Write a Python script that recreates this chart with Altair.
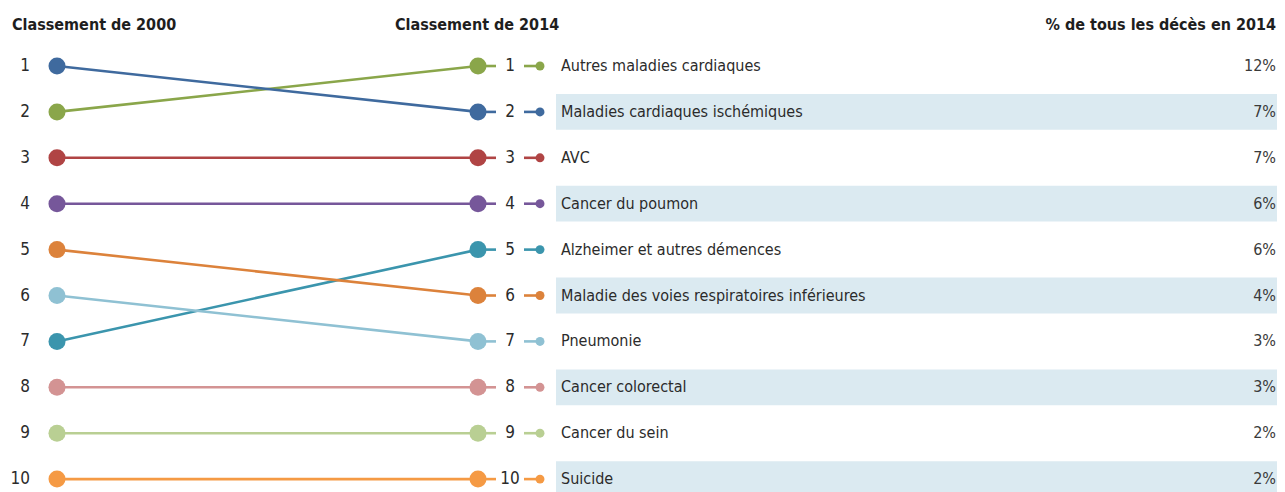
import altair as alt
import pandas as pd

causes = [
    "Autres maladies cardiaques",
    "Maladies cardiaques ischémiques",
    "AVC",
    "Cancer du poumon",
    "Alzheimer et autres démences",
    "Maladie des voies respiratoires inférieures",
    "Pneumonie",
    "Cancer colorectal",
    "Cancer du sein",
    "Suicide",
]
rank_2000 = [2, 1, 3, 4, 7, 5, 6, 8, 9, 10]
rank_2014 = [1, 2, 3, 4, 5, 6, 7, 8, 9, 10]
pct_2014 = [12, 7, 7, 6, 6, 4, 3, 3, 2, 2]
colors = ["#8aa64a", "#3f6a9e", "#b04444", "#76579a", "#3b95ad",
          "#dc823b", "#8fc1d3", "#d39393", "#b9cf93", "#f59a44"]
headers = ["Classement de 2000", "Classement de 2014", "% de tous les décès en 2014"]

FONT = "DejaVu Sans Condensed, sans-serif"
TXT = "#2b2b2b"

W, H = 1269, 484

wide = pd.DataFrame({
    "cause": causes,
    "r2000": rank_2000,
    "r2014": rank_2014,
    "pct": [f"{p}%" for p in pct_2014],
})
long = pd.DataFrame({
    "cause": causes * 2,
    "year": [2000] * 10 + [2014] * 10,
    "rank": rank_2000 + rank_2014,
})

yscale = alt.Scale(domain=[-0.264, 10.281], reverse=True, nice=False, zero=False)
xscale = alt.Scale(domain=[2000, 2014], range=[49, 470], nice=False, zero=False)
cscale = alt.Scale(domain=causes, range=colors)

base = alt.Chart(wide)

bands = base.transform_filter("datum.r2014 % 2 == 0").transform_calculate(
    y1="datum.r2014 - 0.39", y2="datum.r2014 + 0.39"
).mark_rect(color="#dbeaf1").encode(
    x=alt.value(548), x2=alt.value(W),
    y=alt.Y("y1:Q", scale=yscale, axis=None), y2="y2:Q",
)

lines = alt.Chart(long).mark_line(strokeWidth=2.6).encode(
    x=alt.X("year:Q", scale=xscale, axis=None),
    y=alt.Y("rank:Q", scale=yscale, axis=None),
    color=alt.Color("cause:N", scale=cscale, legend=None),
    detail="cause:N",
)
dots = alt.Chart(long).mark_point(filled=True, opacity=1, size=290).encode(
    x=alt.X("year:Q", scale=xscale, axis=None),
    y=alt.Y("rank:Q", scale=yscale, axis=None),
    color=alt.Color("cause:N", scale=cscale, legend=None),
)

conn1 = base.mark_rule(strokeWidth=2.6).encode(
    x=alt.value(470), x2=alt.value(488),
    y=alt.Y("r2014:Q", scale=yscale, axis=None),
    color=alt.Color("cause:N", scale=cscale, legend=None),
)
conn2 = base.mark_rule(strokeWidth=2.6).encode(
    x=alt.value(516), x2=alt.value(532),
    y=alt.Y("r2014:Q", scale=yscale, axis=None),
    color=alt.Color("cause:N", scale=cscale, legend=None),
)
small = base.mark_point(filled=True, opacity=1, size=80).encode(
    x=alt.value(532),
    y=alt.Y("r2014:Q", scale=yscale, axis=None),
    color=alt.Color("cause:N", scale=cscale, legend=None),
)

left_num = base.mark_text(align="right", baseline="middle", font=FONT, fontSize=17, color=TXT).encode(
    x=alt.value(22), y=alt.Y("r2014:Q", scale=yscale, axis=None), text="r2014:Q",
)
right_num = base.mark_text(align="center", baseline="middle", font=FONT, fontSize=17, color=TXT).encode(
    x=alt.value(502), y=alt.Y("r2014:Q", scale=yscale, axis=None), text="r2014:Q",
)
labels = base.mark_text(align="left", baseline="middle", font=FONT, fontSize=16, color=TXT).encode(
    x=alt.value(553), y=alt.Y("r2014:Q", scale=yscale, axis=None), text="cause:N",
)
pcts = base.mark_text(align="right", baseline="middle", font=FONT, fontSize=16, color="#3a3a3a").encode(
    x=alt.value(1268), y=alt.Y("r2014:Q", scale=yscale, axis=None), text="pct:N",
)

hdf = pd.DataFrame({"h": headers})
def header(i, x, align):
    return alt.Chart(hdf).transform_filter(f"datum.h == '{headers[i]}'").mark_text(
        align=align, baseline="middle", font=FONT, fontSize=16, fontWeight="bold", color="#1e1e1e"
    ).encode(x=alt.value(x), y=alt.value(17), text="h:N")

h1 = header(0, 4, "left")
h2 = header(1, 387, "left")
h3 = header(2, 1268, "right")

chart = alt.layer(
    bands, lines, conn1, conn2, dots, small, left_num, right_num, labels, pcts, h1, h2, h3
).properties(
    width=W, height=H, padding=0,
    autosize=alt.AutoSizeParams(type="none"),
).configure_view(stroke=None)

chart.save("out.html", embed_options={"renderer": "svg", "actions": False})
